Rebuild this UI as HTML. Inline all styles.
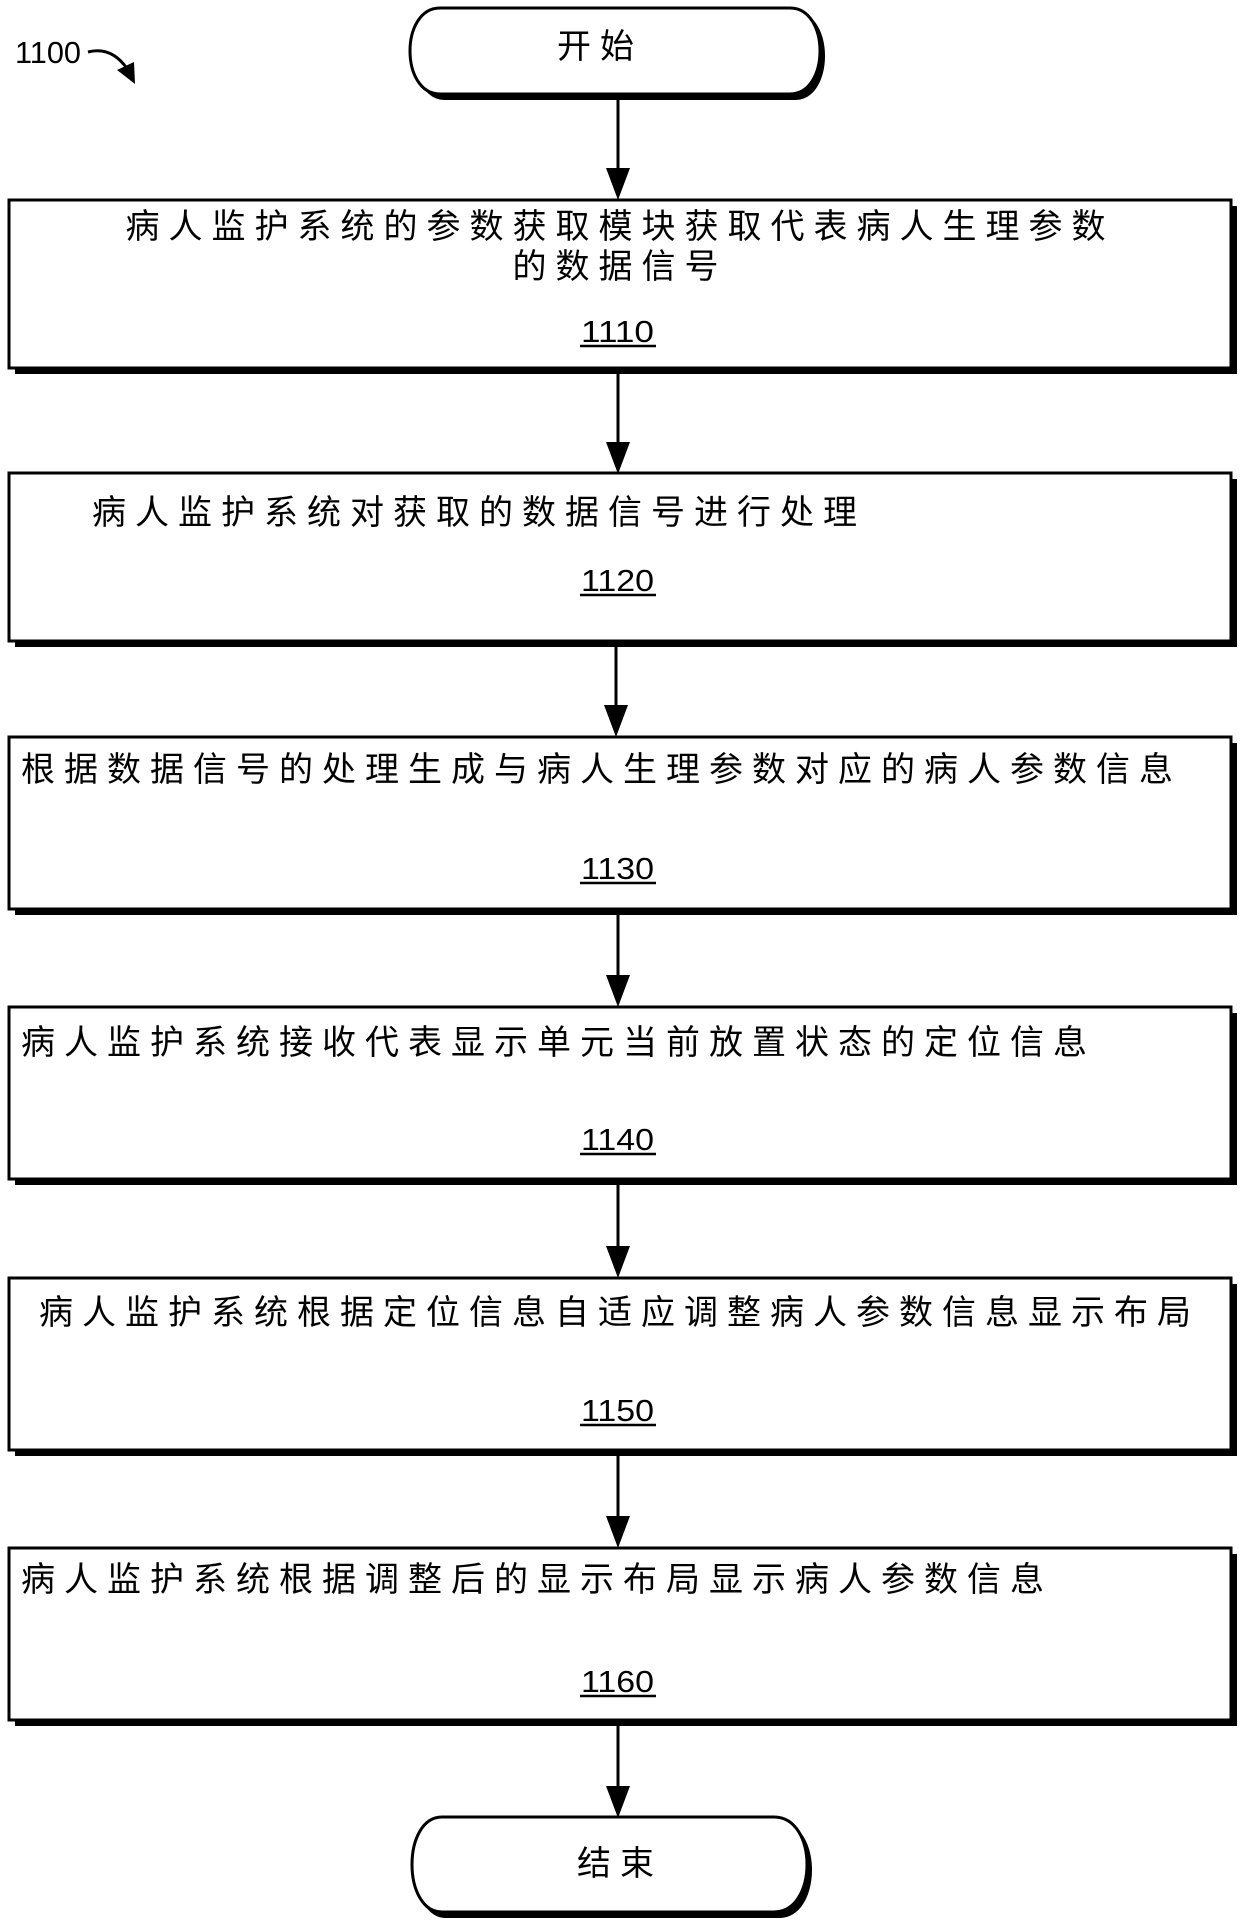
<!DOCTYPE html>
<html><head><meta charset="utf-8"><style>
html,body{margin:0;padding:0;background:#fff}
svg{display:block}
.t{font-family:"Liberation Sans","Noto Sans CJK SC",sans-serif;font-size:34px;letter-spacing:9px;fill:#000}
.n{font-family:"Liberation Sans",sans-serif;font-size:31px;fill:#000}
</style></head><body>
<svg width="1240" height="1923" viewBox="0 0 1240 1923" xmlns="http://www.w3.org/2000/svg">
<defs>
<g id="ah"><polygon points="-12,0 12,0 0,32" fill="#000"/></g>
</defs>
<text x="15" y="63" class="n" textLength="66" lengthAdjust="spacingAndGlyphs" font-size="32">1100</text>
<path d="M88,52 Q112,46 128,70" fill="none" stroke="#000" stroke-width="3"/>
<polygon points="117,70 134,62 135,84" fill="#000"/>

<!-- start oval -->
<path d="M445,12 L795,12 C835,12 835,100 795,100 L445,100 C405,100 405,12 445,12 Z" fill="#000"/>
<path d="M440,8 L790,8 C830,8 830,94 790,94 L440,94 C400,94 400,8 440,8 Z" fill="#fff" stroke="#000" stroke-width="3"/>
<text x="600" y="58" class="t" text-anchor="middle" letter-spacing="4">开始</text>

<g stroke="#000" stroke-width="3">
<line x1="618" y1="98" x2="618" y2="170"/>
<line x1="618" y1="372" x2="618" y2="445"/>
<line x1="616" y1="644" x2="616" y2="706"/>
<line x1="618" y1="912" x2="618" y2="976"/>
<line x1="618" y1="1182" x2="618" y2="1248"/>
<line x1="618" y1="1453" x2="618" y2="1518"/>
<line x1="618" y1="1725" x2="618" y2="1786"/>
</g>
<use href="#ah" x="618" y="168"/>
<use href="#ah" x="618" y="442"/>
<use href="#ah" x="616" y="705"/>
<use href="#ah" x="618" y="975"/>
<use href="#ah" x="618" y="1246"/>
<use href="#ah" x="618" y="1516"/>
<use href="#ah" x="618" y="1786"/>

<g fill="#000">
<rect x="15" y="206" width="1222" height="168"/>
<rect x="15" y="479" width="1222" height="168"/>
<rect x="15" y="743" width="1222" height="172"/>
<rect x="15" y="1013" width="1222" height="172"/>
<rect x="15" y="1284" width="1222" height="172"/>
<rect x="15" y="1554" width="1222" height="172"/>
</g>
<g fill="#fff" stroke="#000" stroke-width="3">
<rect x="9" y="200" width="1222" height="168"/>
<rect x="9" y="473" width="1222" height="168"/>
<rect x="9" y="737" width="1222" height="172"/>
<rect x="9" y="1007" width="1222" height="172"/>
<rect x="9" y="1278" width="1222" height="172"/>
<rect x="9" y="1548" width="1222" height="172"/>
</g>

<text x="620" y="238" class="t" text-anchor="middle">病人监护系统的参数获取模块获取代表病人生理参数</text>
<text x="620" y="278" class="t" text-anchor="middle">的数据信号</text>
<text x="92" y="524" class="t">病人监护系统对获取的数据信号进行处理</text>
<text x="21" y="781" class="t">根据数据信号的处理生成与病人生理参数对应的病人参数信息</text>
<text x="21" y="1054" class="t">病人监护系统接收代表显示单元当前放置状态的定位信息</text>
<text x="39" y="1324" class="t">病人监护系统根据定位信息自适应调整病人参数信息显示布局</text>
<text x="21" y="1591" class="t">病人监护系统根据调整后的显示布局显示病人参数信息</text>

<g class="n">
<text x="581" y="342" textLength="73" lengthAdjust="spacingAndGlyphs">1110</text>
<text x="581" y="591" textLength="73" lengthAdjust="spacingAndGlyphs">1120</text>
<text x="581" y="879" textLength="73" lengthAdjust="spacingAndGlyphs">1130</text>
<text x="581" y="1150" textLength="73" lengthAdjust="spacingAndGlyphs">1140</text>
<text x="581" y="1421" textLength="73" lengthAdjust="spacingAndGlyphs">1150</text>
<text x="581" y="1692" textLength="73" lengthAdjust="spacingAndGlyphs">1160</text>
</g>
<g stroke="#000" stroke-width="2.5">
<line x1="580" y1="346" x2="656" y2="346"/>
<line x1="580" y1="595" x2="656" y2="595"/>
<line x1="580" y1="883" x2="656" y2="883"/>
<line x1="580" y1="1154" x2="656" y2="1154"/>
<line x1="580" y1="1425" x2="656" y2="1425"/>
<line x1="580" y1="1696" x2="656" y2="1696"/>
</g>

<!-- end oval -->
<path d="M446,1822 L779,1822 C823,1822 823,1918 779,1918 L446,1918 C406,1918 406,1822 446,1822 Z" fill="#000"/>
<path d="M442,1817 L774,1817 C818,1817 818,1912 774,1912 L442,1912 C402,1912 402,1817 442,1817 Z" fill="#fff" stroke="#000" stroke-width="3"/>
<text x="620" y="1875" class="t" text-anchor="middle" letter-spacing="6">结束</text>
</svg>
</body></html>
